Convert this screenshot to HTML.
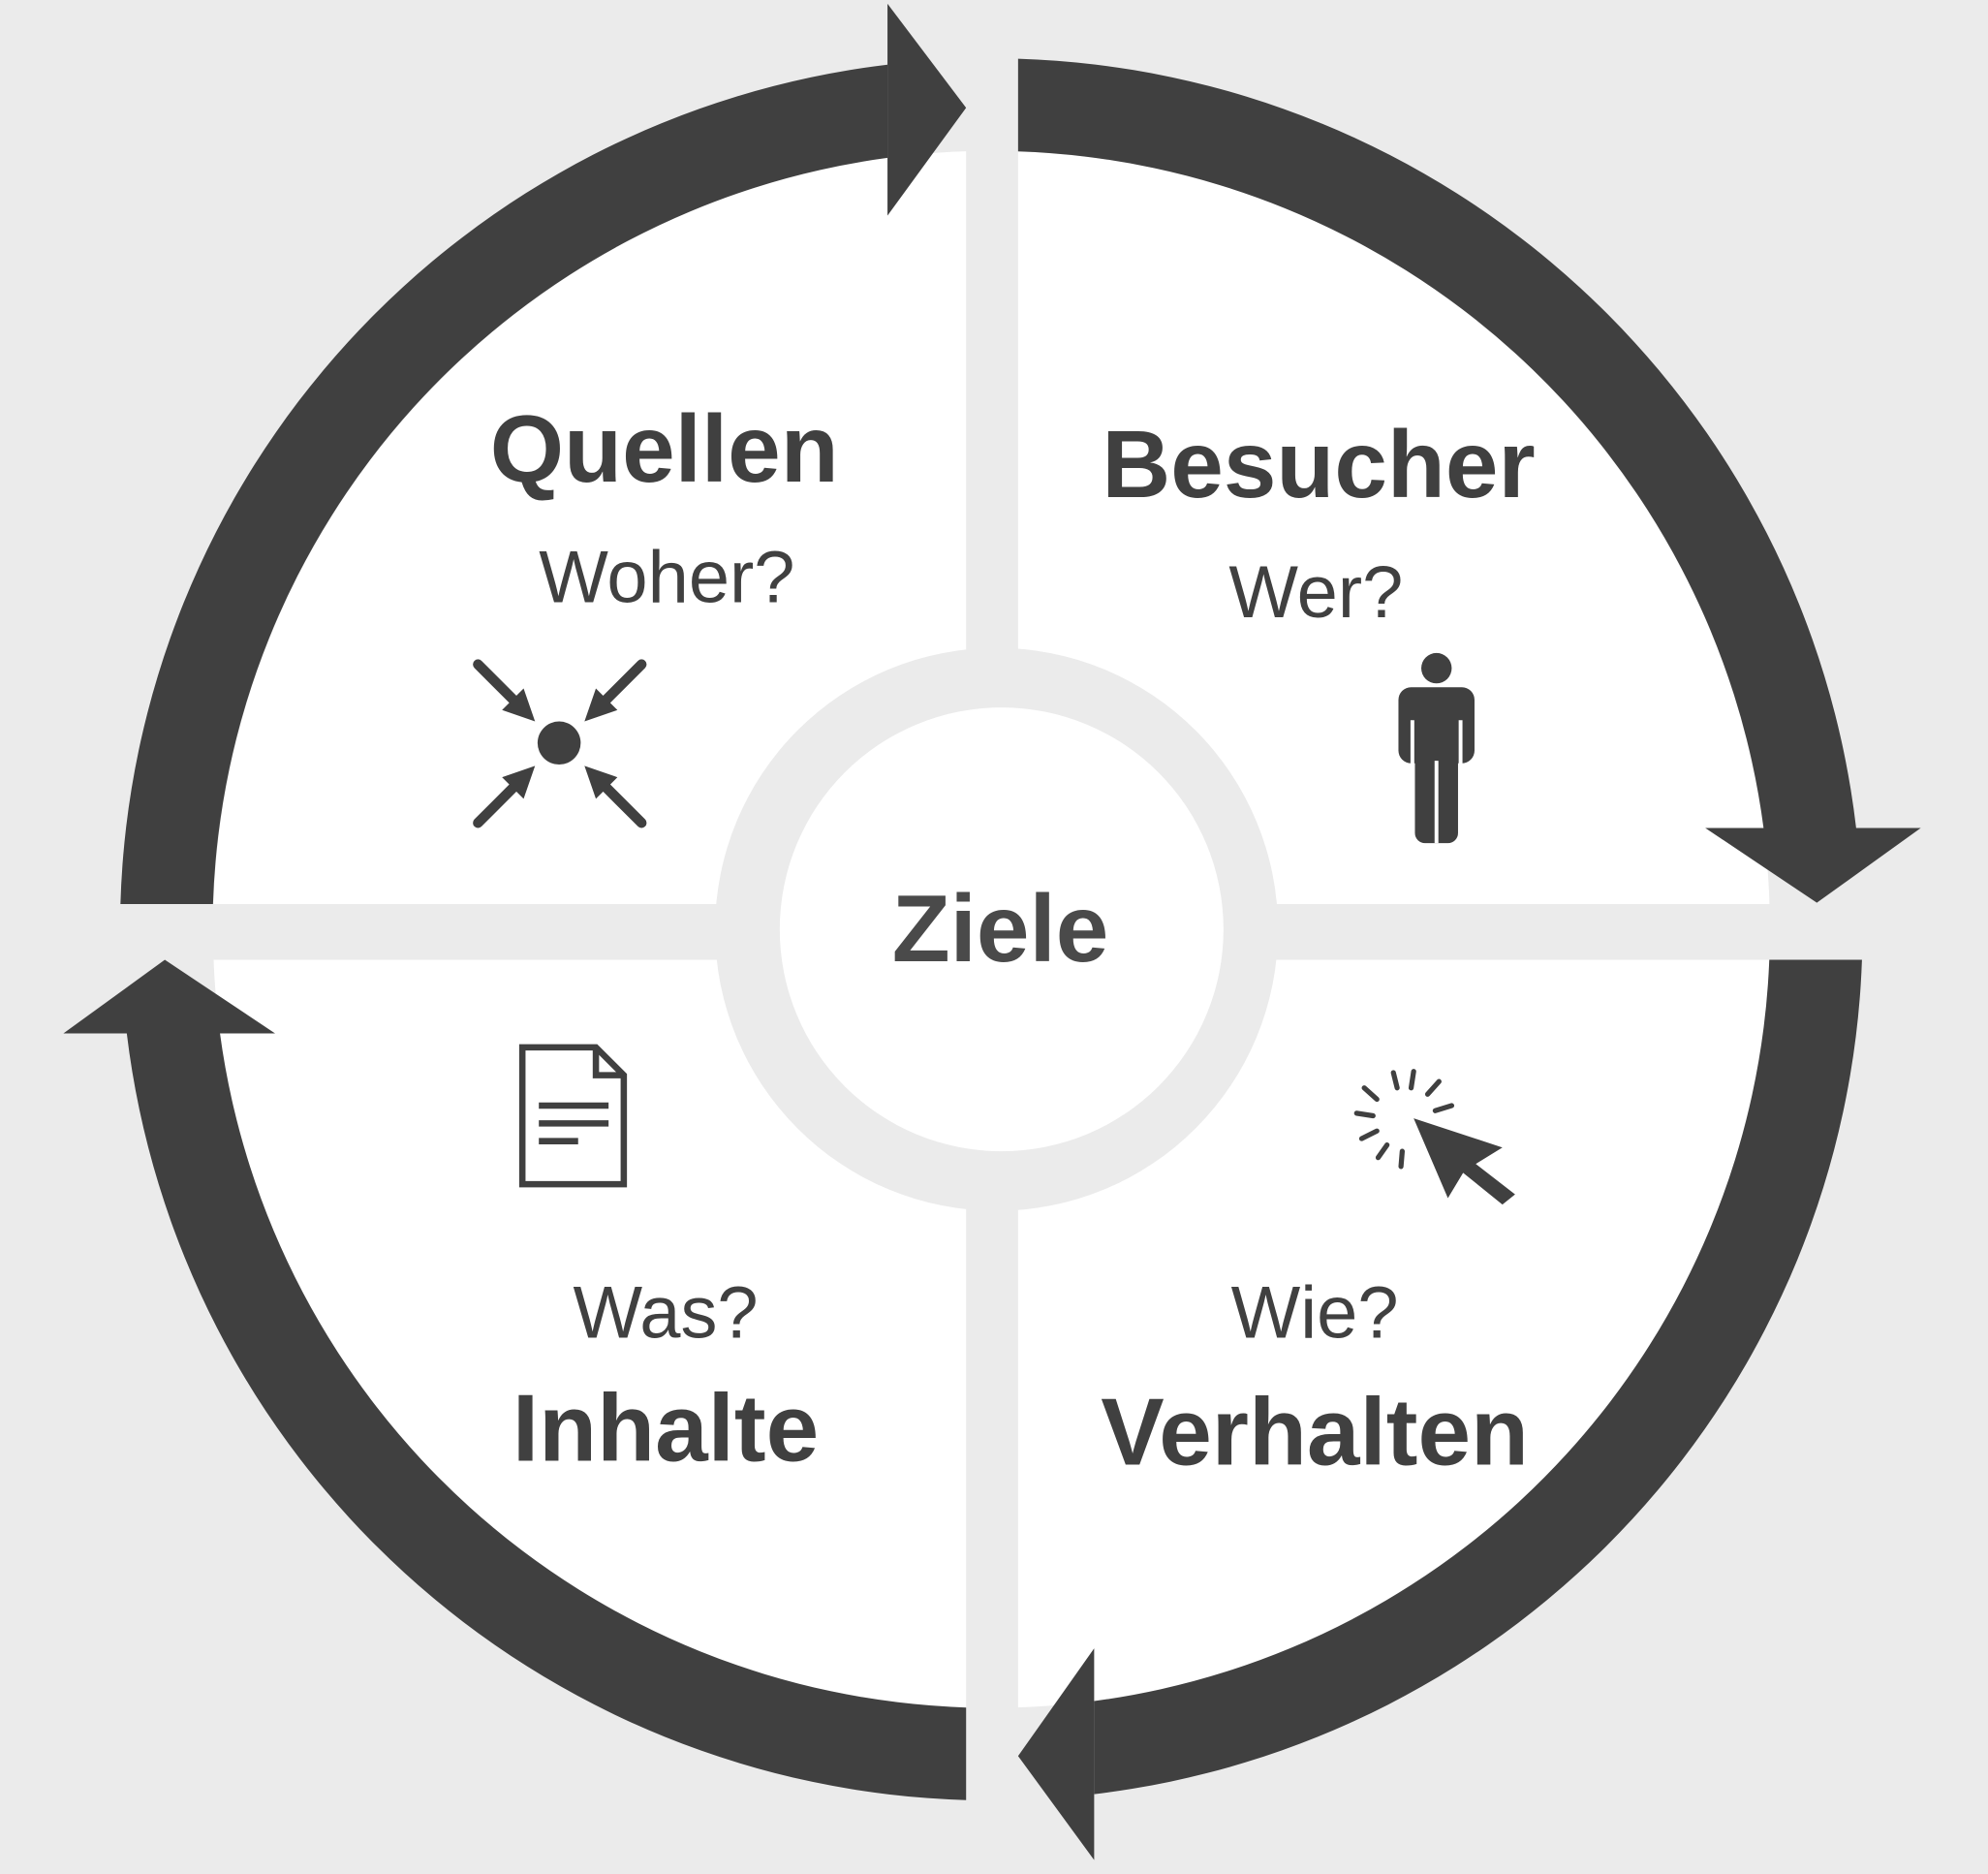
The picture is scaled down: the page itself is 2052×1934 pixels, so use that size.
<!DOCTYPE html>
<html><head><meta charset="utf-8"><style>
html,body{margin:0;padding:0;background:#ebebeb;}
svg{display:block;}
text{font-family:"Liberation Sans",Arial,sans-serif;fill:#404040;}
</style></head><body>
<svg width="2052" height="1934" viewBox="0 0 1568 1478" preserveAspectRatio="none" xmlns="http://www.w3.org/2000/svg">
<rect width="1568" height="1478" fill="#ebebeb"/>
<circle cx="782" cy="733" r="614" fill="#fff"/>
<rect x="762" y="100" width="41" height="1280" fill="#ebebeb"/>
<rect x="150" y="713" width="1270" height="44" fill="#ebebeb"/>
<circle cx="786" cy="733" r="222" fill="#ebebeb"/>
<circle cx="790" cy="733" r="175" fill="#fff"/>
<g fill="#404040">
<path d="M95,713 A687,687 0 0 1 700,51 L700,124.5 A614,614 0 0 0 168,713 Z"/>
<polygon points="700,3 762,85 700,170"/>
<path d="M803,46.3 A687,687 0 0 1 1464,653 L1391,653 A614,614 0 0 0 803,119.4 Z"/>
<polygon points="1345,653 1515,653 1433,712"/>
<path d="M1468.6,757 A687,687 0 0 1 863,1415 L863,1341.6 A614,614 0 0 0 1395.5,757 Z"/>
<polygon points="863,1300 863,1467 803,1385"/>
<path d="M762,1419.7 A687,687 0 0 1 100,815 L173.5,815 A614,614 0 0 0 762,1346.7 Z"/>
<polygon points="50,815 217,815 130,757"/>
</g>
<text x="524" y="380" font-size="75" font-weight="bold" text-anchor="middle">Quellen</text>
<text x="526" y="475" font-size="58" text-anchor="middle">Woher?</text>
<text x="1040" y="392" font-size="75" font-weight="bold" text-anchor="middle">Besucher</text>
<text x="1038" y="487" font-size="58" text-anchor="middle">Wer?</text>
<text x="525" y="1055" font-size="58" text-anchor="middle">Was?</text>
<text x="525" y="1152" font-size="75" font-weight="bold" text-anchor="middle">Inhalte</text>
<text x="1037" y="1055" font-size="58" text-anchor="middle">Wie?</text>
<text x="1037" y="1155" font-size="75" font-weight="bold" text-anchor="middle">Verhalten</text>
<text x="789" y="758" font-size="75" font-weight="bold" text-anchor="middle" style="fill:#4a4a4a">Ziele</text>
<g stroke="#404040" stroke-width="8" stroke-linecap="round" fill="#404040">
<circle cx="441" cy="586" r="17" stroke="none"/>
<line x1="377" y1="524" x2="405" y2="552"/>
<line x1="506" y1="524" x2="478" y2="552"/>
<line x1="377" y1="649" x2="405" y2="621"/>
<line x1="506" y1="649" x2="478" y2="621"/>
</g>
<g fill="#404040">
<polygon points="422,569 396,560 413,543"/>
<polygon points="461,569 487,560 470,543"/>
<polygon points="422,604 396,613 413,630"/>
<polygon points="461,604 487,613 470,630"/>
</g>
<g fill="#404040">
<circle cx="1133" cy="527" r="12"/>
<rect x="1103" y="542" width="60" height="60" rx="10"/>
<rect x="1116" y="560" width="34" height="105" rx="8"/>
</g>
<g stroke="#fff" stroke-width="3"><line x1="1133" y1="600" x2="1133" y2="665"/><line x1="1114" y1="568" x2="1114" y2="604"/><line x1="1152" y1="568" x2="1152" y2="604"/></g>
<g fill="none" stroke="#404040" stroke-width="5">
<path d="M412,826 L470,826 L492,848 L492,934 L412,934 Z"/>
<path d="M470,826 L470,848 L492,848"/>
</g>
<g stroke="#404040" stroke-width="5"><line x1="425" y1="872" x2="480" y2="872"/><line x1="425" y1="886" x2="480" y2="886"/><line x1="425" y1="900" x2="456" y2="900"/></g>
<polygon points="1115,882 1185,905 1164,918 1195,942 1185,950 1154,925 1142,945" fill="#404040"/>
<g stroke="#404040" stroke-width="4" stroke-linecap="round">
<line x1="1099" y1="846" x2="1102" y2="858"/>
<line x1="1115" y1="845" x2="1113" y2="858"/>
<line x1="1135" y1="853" x2="1126" y2="863"/>
<line x1="1145" y1="872" x2="1132" y2="876"/>
<line x1="1076" y1="858" x2="1086" y2="867"/>
<line x1="1070" y1="878" x2="1083" y2="880"/>
<line x1="1074" y1="898" x2="1086" y2="892"/>
<line x1="1087" y1="913" x2="1094" y2="903"/>
<line x1="1105" y1="920" x2="1106" y2="908"/>
</g>
</svg>
</body></html>
